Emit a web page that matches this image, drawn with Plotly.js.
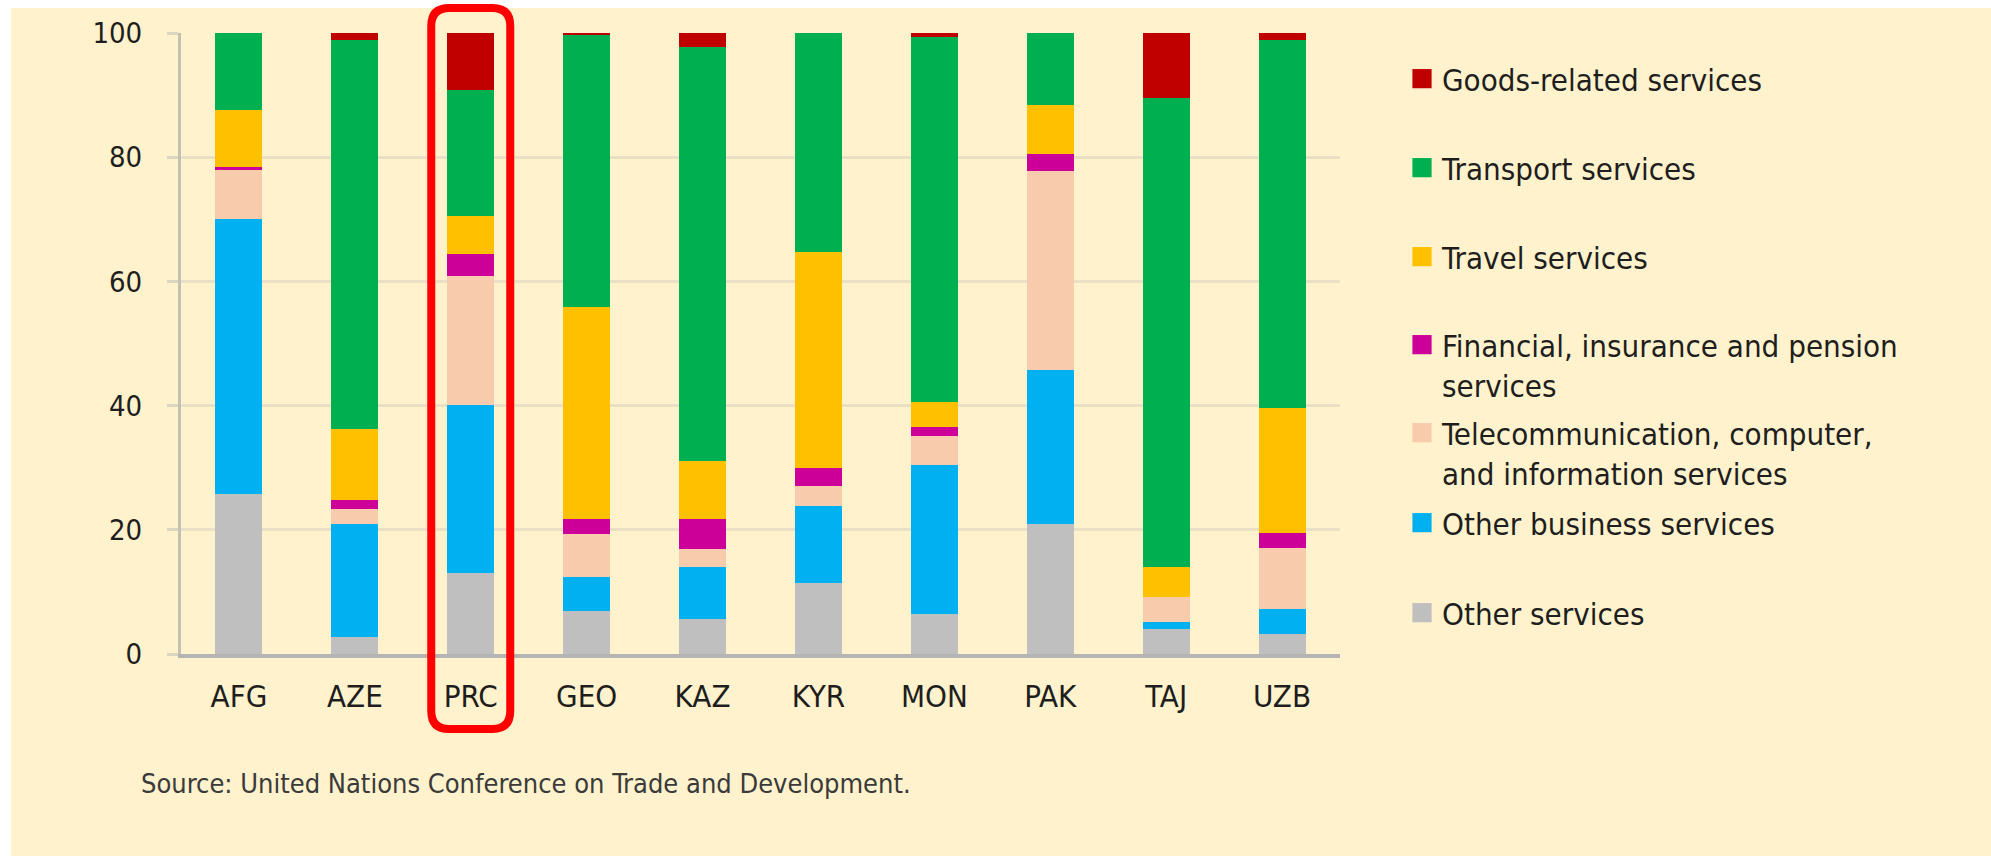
<!DOCTYPE html>
<html>
<head>
<meta charset="utf-8">
<script src="https://cdn.plot.ly/plotly-3.0.1.min.js"></script>
<style>
  html, body { margin: 0; padding: 0; background: #ffffff; }
  #chart { width: 1991px; height: 856px; }
</style>
</head>
<body>
<div id="chart"></div>
<script>
// ---------- data ----------
const categories = ["AFG", "AZE", "PRC", "GEO", "KAZ", "KYR", "MON", "PAK", "TAJ", "UZB"];

const otherServices      = [25.7,  2.7, 13.0,  7.0,  5.6, 11.4,  6.4, 21.0,  4.1,  3.2];
const otherBusiness      = [44.4, 18.3, 27.1,  5.4,  8.4, 12.4, 24.0, 24.7,  1.0,  4.0];
const telecomComputer    = [ 7.8,  2.3, 20.8,  7.0,  2.9,  3.3,  4.7, 32.0,  4.1,  9.9];
const financialInsurance = [ 0.6,  1.5,  3.5,  2.4,  4.9,  2.8,  1.5,  2.8,  0.0,  2.4];
const travelServices     = [ 9.1, 11.4,  6.1, 34.0,  9.2, 34.9,  4.0,  7.9,  4.8, 20.1];
const transportServices  = [12.4, 62.7, 20.4, 43.9, 66.8, 35.2, 58.7, 11.6, 75.5, 59.2];
const goodsRelated       = [ 0.0,  1.1,  9.1,  0.3,  2.2,  0.0,  0.7,  0.0, 10.5,  1.2];

const seriesNames = [
  "Other services",
  "Other business services",
  "Telecommunication, computer,<br>and information services",
  "Financial, insurance and pension<br>services",
  "Travel services",
  "Transport services",
  "Goods-related services"
];
const seriesValues = [otherServices, otherBusiness, telecomComputer, financialInsurance,
                      travelServices, transportServices, goodsRelated];
const seriesColors = ["#BFBFBF", "#00B0F0", "#F8CBAD", "#CC0099", "#FFC000", "#00B050", "#C00000"];

const yTickValues = [0, 20, 40, 60, 80, 100];
const highlighted = "PRC";
const sourceNote = "Source: United Nations Conference on Trade and Development.";

// ---------- layout geometry (pixels) ----------
const W = 1991, H = 856;
const M = { l: 181, r: 651, t: 33, b: 202 };
const plotW = W - M.l - M.r, plotH = H - M.t - M.b;
const px2x = p => (p - M.l) / plotW;
const py2y = p => (H - M.b - p) / plotH;

const FONT = "'DejaVu Sans Condensed', 'DejaVu Sans', sans-serif";
const TXT = "#1e1e1e";

// legend item centres (pixel y), in the order of seriesNames
const legendY = [613, 523, 453, 365, 257, 168, 79];

const traces = seriesNames.map((name, i) => ({
  type: "bar",
  name: name,
  x: categories,
  y: seriesValues[i],
  marker: { color: seriesColors[i], line: { width: 0 } },
  legend: i === 0 ? "legend" : "legend" + (i + 1),
  showlegend: true,
  hoverinfo: "x+y+name"
}));

const layout = {
  width: W, height: H,
  margin: M,
  showlegend: true,
  paper_bgcolor: "#ffffff",
  plot_bgcolor: "rgba(0,0,0,0)",
  barmode: "stack",
  bargap: 0.595,
  font: { family: FONT, size: 31, color: TXT },
  xaxis: {
    type: "category",
    range: [-0.5, categories.length - 0.5],
    showgrid: false,
    showline: true, linecolor: "#B4B4B4", linewidth: 4,
    ticks: "", ticklabelstandoff: 12,
    tickfont: { family: FONT, size: 31, color: TXT },
    zeroline: false, fixedrange: true
  },
  yaxis: {
    range: [0, 100],
    tickvals: yTickValues,
    showgrid: true, gridcolor: "#E9E0C6", gridwidth: 3,
    showline: true, linecolor: "#C4C0B4", linewidth: 3,
    ticks: "outside", ticklen: 11, tickwidth: 3, tickcolor: "#DCD5C0",
    ticklabelstandoff: 19,
    tickfont: { family: FONT, size: 29, color: TXT },
    zeroline: false, fixedrange: true
  },
  shapes: [],
  annotations: [{
    xref: "paper", yref: "paper",
    x: px2x(139), y: py2y(783),
    xanchor: "left", yanchor: "middle",
    text: sourceNote, showarrow: false,
    font: { family: FONT, size: 27, color: "#3a3a3a" }
  }]
};

// one legend per series so each item sits where the reference places it
seriesNames.forEach((n, i) => {
  const key = i === 0 ? "legend" : "legend" + (i + 1);
  layout[key] = {
    visible: true,
    x: px2x(1402), xanchor: "left",
    y: py2y(legendY[i]), yanchor: "middle",
    bgcolor: "rgba(0,0,0,0)",
    borderwidth: 0,
    valign: "top",
    font: { family: FONT, size: 31, color: TXT },
    itemclick: false, itemdoubleclick: false
  };
});

// cream panel behind the chart
layout.shapes.push({
  type: "rect", xref: "paper", yref: "paper", layer: "below",
  x0: px2x(11), x1: px2x(W + 5), y0: py2y(H + 5), y1: py2y(8),
  fillcolor: "#FFF2CC", line: { width: 0 }
});

// red rounded frame around the highlighted category
(function () {
  const idx = categories.indexOf(highlighted);
  const cx = (idx + 0.5) / categories.length;
  const hw = 39.5 / plotW;
  const x0 = cx - hw, x1 = cx + hw;
  const y1 = py2y(8), y0 = py2y(729);
  const rx = 18 / plotW, ry = 18 / plotH;
  const path =
    `M ${x0 + rx},${y1} L ${x1 - rx},${y1} Q ${x1},${y1} ${x1},${y1 - ry} ` +
    `L ${x1},${y0 + ry} Q ${x1},${y0} ${x1 - rx},${y0} ` +
    `L ${x0 + rx},${y0} Q ${x0},${y0} ${x0},${y0 + ry} ` +
    `L ${x0},${y1 - ry} Q ${x0},${y1} ${x0 + rx},${y1} Z`;
  layout.shapes.push({
    type: "path", xref: "paper", yref: "paper", layer: "above",
    path: path, line: { color: "#FF0000", width: 8 }, fillcolor: "rgba(0,0,0,0)"
  });
})();

Plotly.newPlot("chart", traces, layout, { displayModeBar: false, responsive: false })
  .then(gd => {
    // enlarge the legend swatches to the reference's ~19px squares
    gd.querySelectorAll(".legendpoints path").forEach(p => {
      const t = p.getAttribute("transform") || "";
      p.setAttribute("transform", t + " scale(1.6)");
    });
  });
</script>
</body>
</html>
